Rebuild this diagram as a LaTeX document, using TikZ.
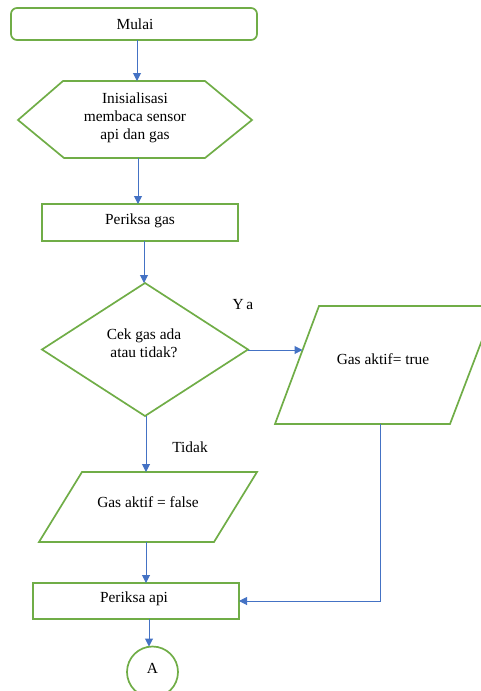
\documentclass[tikz,border=0pt]{standalone}
\usepackage{fontspec}
\setmainfont{Liberation Serif}
\usetikzlibrary{arrows.meta}
\definecolor{shapegreen}{HTML}{70AD47}
\definecolor{linkblue}{HTML}{4472C4}
\begin{document}
\begin{tikzpicture}[x=1pt,y=-1pt,
  shapeline/.style={draw=shapegreen,line width=1.7pt,line join=miter},
  link/.style={draw=linkblue,line width=1pt,-{Triangle[width=8pt,length=8pt]}},
  lbl/.style={anchor=base,inner sep=0pt,font=\fontsize{15.4}{18.5}\selectfont}]
\useasboundingbox (0,0) rectangle (481,691);
\clip (0,0) rectangle (481,691);

% shapes
\draw[shapeline,rounded corners=6pt] (11,8) rectangle (257,40);
\draw[shapeline] (18,120) -- (63,81) -- (205,81) -- (252,120) -- (205,158) -- (64,158) -- cycle;
\draw[shapeline] (42,204) rectangle (238,241);
\draw[shapeline] (145,283) -- (248,349.5) -- (145,416) -- (42,349.5) -- cycle;
\draw[shapeline] (319,306) -- (495,306) -- (450,424) -- (275,424) -- cycle;
\draw[shapeline] (82,472) -- (257,472) -- (214,542) -- (39,542) -- cycle;
\draw[shapeline] (33,583) rectangle (239,619);
\draw[shapeline] (152.5,672) circle (25.5);

% connection points
\coordinate (mulaiB) at (137,40);
\coordinate (hexT) at (137,81);
\coordinate (hexB) at (138,158);
\coordinate (gasT) at (138,204);
\coordinate (gasB) at (144,241);
\coordinate (diaT) at (144,283);
\coordinate (diaR) at (248,350);
\coordinate (trueL) at (302.5,350);
\coordinate (diaB) at (146,416);
\coordinate (falseT) at (146,472);
\coordinate (falseB) at (146,542);
\coordinate (apiT) at (146,583);
\coordinate (trueB) at (380,424);
\coordinate (bend) at (380,601);
\coordinate (apiR) at (239,601);
\coordinate (apiB) at (149,619);
\coordinate (circT) at (149,646.5);

% texts
\node[lbl] (tMulai) at (135,29.5) {Mulai};
\node[lbl] (tInit1) at (135,103.5) {Inisialisasi};
\node[lbl] (tInit2) at (135,121) {membaca sensor};
\node[lbl] (tInit3) at (135,139.5) {api dan gas};
\node[lbl] (tGas) at (140,224) {Periksa gas};
\node[lbl] (tCek1) at (144,339) {Cek gas ada};
\node[lbl] (tCek2) at (144,357.3) {atau tidak?};
\node[lbl] (tYa) at (243,309) {Y\,a};
\node[lbl] (tTrue) at (383,364) {Gas aktif= true};
\node[lbl] (tTidak) at (190,452.7) {Tidak};
\node[lbl] (tFalse) at (148,507) {Gas aktif = false};
\node[lbl] (tApi) at (134,602.7) {Periksa api};
\node[lbl] (tA) at (152.5,673) {A};

% connectors
\draw[link] (mulaiB) -- (hexT);
\draw[link] (hexB) -- (gasT);
\draw[link] (gasB) -- (diaT);
\draw[link] (diaR) -- (trueL);
\draw[link] (diaB) -- (falseT);
\draw[link] (falseB) -- (apiT);
\draw[link] (trueB) -- (bend) -- (apiR);
\draw[link] (apiB) -- (circT);
\end{tikzpicture}
\end{document}
